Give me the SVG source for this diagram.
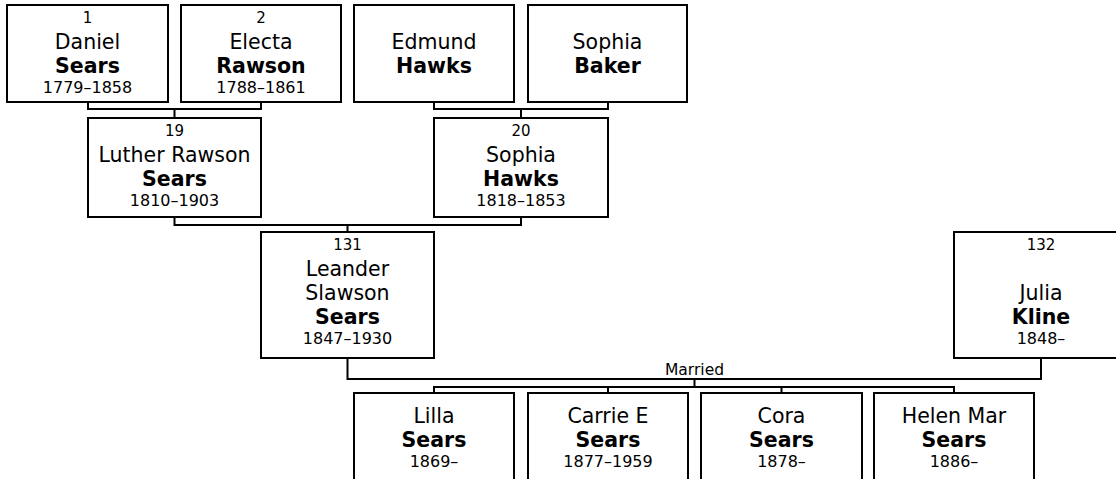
<svg xmlns="http://www.w3.org/2000/svg" width="1116" height="479" viewBox="0 0 1116 479">
<style>
rect.box{fill:#fff;stroke:#000;stroke-width:2}
.c path{fill:none;stroke:#000;stroke-width:2}
text{font-family:"DejaVu Sans",Verdana,sans-serif;fill:#000;text-anchor:middle}
.n{font-size:15px}
.g{font-size:20.5px}
.s{font-size:20.5px;font-weight:bold}
.d{font-size:16px}
.m{font-size:15.5px}
</style>
<rect width="1116" height="479" fill="#fff"/>
<g class="c" id="connectors">
<path d="M88 102V109H261V102M174.5 109V118"/>
<path d="M434 102V109H608V102M521 109V118"/>
<path d="M174.5 217V225H521V217M347.5 225V232"/>
<path d="M347.5 358V379H1041V358"/>
<path d="M694.5 379V387M434 393V387H954V393M608 387V393M781.5 387V393"/>
<text class="m" x="694.5" y="375">Married</text>
</g>
<g id="p1"><rect class="box" x="7" y="5" width="161" height="97"/>
<text class="n" x="87.5" y="23">1</text><text class="g" x="87.5" y="49">Daniel</text><text class="s" x="87.5" y="73">Sears</text><text class="d" x="87.5" y="93">1779–1858</text></g>
<g id="p2"><rect class="box" x="181" y="5" width="160" height="97"/>
<text class="n" x="261" y="23">2</text><text class="g" x="261" y="49">Electa</text><text class="s" x="261" y="73">Rawson</text><text class="d" x="261" y="93">1788–1861</text></g>
<g id="p3"><rect class="box" x="354" y="5" width="160" height="97"/>
<text class="g" x="434" y="49">Edmund</text><text class="s" x="434" y="73">Hawks</text></g>
<g id="p4"><rect class="box" x="528" y="5" width="159" height="97"/>
<text class="g" x="607.5" y="49">Sophia</text><text class="s" x="607.5" y="73">Baker</text></g>
<g id="p19"><rect class="box" x="88" y="118" width="173" height="99"/>
<text class="n" x="174.5" y="136">19</text><text class="g" x="174.5" y="162">Luther Rawson</text><text class="s" x="174.5" y="186">Sears</text><text class="d" x="174.5" y="206">1810–1903</text></g>
<g id="p20"><rect class="box" x="434" y="118" width="174" height="99"/>
<text class="n" x="521" y="136">20</text><text class="g" x="521" y="162">Sophia</text><text class="s" x="521" y="186">Hawks</text><text class="d" x="521" y="206">1818–1853</text></g>
<g id="p131"><rect class="box" x="261" y="232" width="173" height="126"/>
<text class="n" x="347.5" y="250">131</text><text class="g" x="347.5" y="276">Leander</text><text class="g" x="347.5" y="300">Slawson</text><text class="s" x="347.5" y="324">Sears</text><text class="d" x="347.5" y="344">1847–1930</text></g>
<g id="p132"><rect class="box" x="954" y="232" width="174" height="126"/>
<text class="n" x="1041" y="250">132</text><text class="g" x="1041" y="300">Julia</text><text class="s" x="1041" y="324">Kline</text><text class="d" x="1041" y="344">1848–</text></g>
<g id="c1"><rect class="box" x="354" y="393" width="160" height="100"/>
<text class="g" x="434" y="423">Lilla</text><text class="s" x="434" y="447">Sears</text><text class="d" x="434" y="467">1869–</text></g>
<g id="c2"><rect class="box" x="528" y="393" width="160" height="100"/>
<text class="g" x="608" y="423">Carrie E</text><text class="s" x="608" y="447">Sears</text><text class="d" x="608" y="467">1877–1959</text></g>
<g id="c3"><rect class="box" x="701" y="393" width="161" height="100"/>
<text class="g" x="781.5" y="423">Cora</text><text class="s" x="781.5" y="447">Sears</text><text class="d" x="781.5" y="467">1878–</text></g>
<g id="c4"><rect class="box" x="874" y="393" width="160" height="100"/>
<text class="g" x="954" y="423">Helen Mar</text><text class="s" x="954" y="447">Sears</text><text class="d" x="954" y="467">1886–</text></g>
</svg>
